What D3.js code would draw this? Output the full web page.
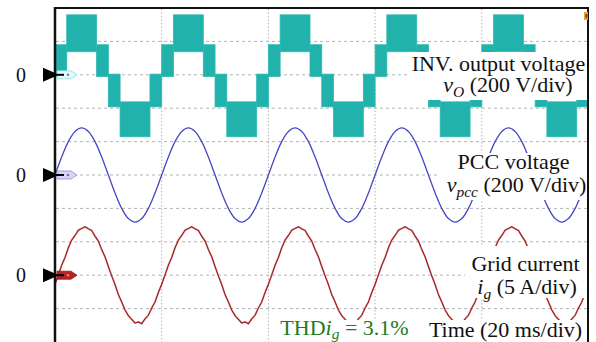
<!DOCTYPE html>
<html>
<head>
<meta charset="utf-8">
<script src="https://cdn.jsdelivr.net/npm/d3@7"></script>
<style>
  body { margin: 0; background: #fff; }
  svg { display: block; font-family: "Liberation Serif", "Times New Roman", serif; }
</style>
</head>
<body>
<svg id="scope" width="596" height="342"></svg>
<script>
// time base 20 ms/div, five divisions on screen
var timeGrid = [20, 40, 60, 80];
var divGrid = [1, 2, 3, 4, 5, 6, 7, 8, 9];
var cycles = [0, 20, 40, 60, 80, 100];

// vO : multilevel PWM bands within one 20 ms cycle (ms, V)
var voStart = [0, 2.2, 7.8, 10, 12.2, 17.8];
var voEnd   = [2.2, 7.8, 10, 12.2, 17.8, 20];
var voHigh  = [180, 359, 180, 4, -162, 4];
var voLow   = [-10, 138, -10, -192, -371, -192];

// vpcc sampled every 1.25 ms over one cycle (V)
var vpccT = [0, 1.25, 2.5, 3.75, 5, 6.25, 7.5, 8.75, 10, 11.25, 12.5, 13.75, 15, 16.25, 17.5, 18.75];
var vpcc  = [0, 108, 200, 261, 282, 261, 200, 108, 0, -108, -200, -261, -282, -261, -200, -108];

// ig sampled every 0.625 ms over one cycle (A)
var igT = [0, 0.625, 1.25, 1.875, 2.5, 3.125, 3.75, 4.375, 5, 5.625, 6.25, 6.875, 7.5, 8.125, 8.75, 9.375,
           10, 10.625, 11.25, 11.875, 12.5, 13.125, 13.75, 14.375, 15, 15.625, 16.25, 16.875, 17.5, 18.125, 18.75, 19.375];
var ig  = [-1.35, 0.05, 1.5, 2.65, 4.1, 5.25, 5.95, 6.75, 7.0, 7.25, 6.95, 6.7, 5.85, 5.1, 3.85, 2.75,
           1.3, -0.1, -1.4, -2.9, -4.0, -5.2, -6.05, -6.6, -7.15, -7.0, -7.25, -6.55, -6.0, -4.9, -4.0, -2.6];

// channel zero positions (division index from top) and scale per division
var chZero = [2, 5, 8];
var chPerDiv = [200, 200, 5];

var svg = d3.select("#scope");
var x = d3.scaleLinear().domain([0, 100]).range([55, 588.5]);
var yDiv = d3.scaleLinear().domain([0, 10]).range([8, 342]);
function chScale(i) {
    return d3.scaleLinear().domain([0, chPerDiv[i]]).range([yDiv(chZero[i]), yDiv(chZero[i] - 1)]);
}
var y1 = chScale(0), y2 = chScale(1), y3 = chScale(2);

svg.append("clipPath").attr("id", "plotClip")
    .append("rect").attr("x", 55).attr("y", 8).attr("width", 533.5).attr("height", 334);

//grid
var grid = svg.append("g");
grid.selectAll(".hgrid").data(divGrid).enter().append("line")
    .attr("x1", 56).attr("x2", 588)
    .attr("y1", function(d) { return yDiv(d); }).attr("y2", function(d) { return yDiv(d); })
    .attr("stroke", "#b4b4b4").attr("stroke-width", 1).attr("stroke-dasharray", "3,3");
grid.selectAll(".vgrid").data(timeGrid).enter().append("line")
    .attr("x1", function(d) { return x(d); }).attr("x2", function(d) { return x(d); })
    .attr("y1", 9).attr("y2", 342)
    .attr("stroke", "#b4b4b4").attr("stroke-width", 1).attr("stroke-dasharray", "1.5,2");

var traces = svg.append("g").attr("clip-path", "url(#plotClip)");

//vO bands
var voBands = [];
cycles.forEach(function(c) {
    voStart.forEach(function(s, i) {
        voBands.push({ t0: c + s, t1: c + voEnd[i], lo: voLow[i], hi: voHigh[i] });
    });
});
traces.selectAll(".vo").data(voBands).enter().append("rect")
    .attr("x", function(d) { return x(d.t0); })
    .attr("width", function(d) { return x(d.t1) - x(d.t0); })
    .attr("y", function(d) { return y1(d.hi); })
    .attr("height", function(d) { return y1(d.lo) - y1(d.hi); })
    .attr("fill", "#22b2ac").attr("stroke", "#2ab8b2").attr("stroke-width", 0.8);

//vpcc
var vpccPts = [];
cycles.forEach(function(c) {
    vpccT.forEach(function(t, i) { vpccPts.push([c + t, vpcc[i]]); });
});
traces.append("path")
    .attr("d", d3.line().x(function(d) { return x(d[0]); }).y(function(d) { return y2(d[1]); })
        .curve(d3.curveCatmullRom)(vpccPts))
    .attr("fill", "none").attr("stroke", "#4646c8").attr("stroke-width", 1.3);

//ig
var igPts = [];
cycles.forEach(function(c) {
    igT.forEach(function(t, i) { igPts.push([c + t, ig[i]]); });
});
traces.append("path")
    .attr("d", d3.line().x(function(d) { return x(d[0]); }).y(function(d) { return y3(d[1]); })(igPts))
    .attr("fill", "none").attr("stroke", "#d08a8a").attr("stroke-width", 2).attr("opacity", 0.5);
traces.append("path")
    .attr("d", d3.line().x(function(d) { return x(d[0]); }).y(function(d) { return y3(d[1]); })(igPts))
    .attr("fill", "none").attr("stroke", "#a01e1e").attr("stroke-width", 1.2);

//white boxes behind the labels
var masks = [[408, 52, 180, 48], [440, 153, 148, 47], [465, 246, 123, 52], [278, 320, 310, 22]];
svg.selectAll(".mask").data(masks).enter().append("rect")
    .attr("x", function(d) { return d[0]; }).attr("y", function(d) { return d[1]; })
    .attr("width", function(d) { return d[2]; }).attr("height", function(d) { return d[3]; })
    .attr("fill", "#fff");

//frame
svg.append("line").attr("x1", 54).attr("x2", 589).attr("y1", 8).attr("y2", 8)
    .attr("stroke", "#111").attr("stroke-width", 2);
svg.append("line").attr("x1", 55).attr("x2", 55).attr("y1", 7).attr("y2", 342)
    .attr("stroke", "#111").attr("stroke-width", 2.5);
svg.append("line").attr("x1", 588).attr("x2", 588).attr("y1", 7).attr("y2", 342)
    .attr("stroke", "#111").attr("stroke-width", 2);
svg.append("rect").attr("x", 584).attr("y", 12).attr("width", 4).attr("height", 8).attr("fill", "#f0a030");
svg.append("rect").attr("x", 585.5).attr("y", 14).attr("width", 2).attr("height", 4).attr("fill", "#7a4a10");

//channel markers
var flagFill = ["#e4f9f9", "#d8d8f6", "#b52424"];
var flagStroke = ["#8adcdc", "#8c8ce0", "#8e1a1a"];
var dotFill = ["#888", "#6a6ad8", "#e08080"];
chZero.forEach(function(z, i) {
    var yz = yDiv(z);
    svg.append("text").attr("x", 21).attr("y", yz + 7).attr("text-anchor", "middle")
        .attr("font-size", 20).attr("fill", "#111").text("0");
    svg.append("path")
        .attr("d", "M" + (57 - 14) + "," + (yz - 7) + "L59," + yz + "L" + (57 - 14) + "," + (yz + 7) + "Z")
        .attr("fill", "#000");
    svg.append("path")
        .attr("d", "M57," + (yz - 4) + "L71," + (yz - 4) + "L77," + yz + "L71," + (yz + 4) + "L57," + (yz + 4) + "Z")
        .attr("fill", flagFill[i]).attr("stroke", flagStroke[i]).attr("stroke-width", 0.8);
    svg.append("line").attr("x1", 55).attr("x2", 64).attr("y1", yz).attr("y2", yz)
        .attr("stroke", "#000").attr("stroke-width", 2);
    svg.append("circle").attr("cx", 68).attr("cy", yz).attr("r", 1.3).attr("fill", dotFill[i]);
});

//labels
var fs = 22;
function label(cx, by, parts, color, shift) {
    var sh = shift || 5;
    var t = svg.append("text").attr("x", cx).attr("y", by).attr("text-anchor", "middle")
        .attr("font-size", fs).attr("fill", color || "#111");
    parts.forEach(function(p) {
        var s = t.append("tspan").text(p.s);
        if (p.i) s.attr("font-style", "italic");
        if (p.sub) s.attr("font-size", 15.5).attr("dy", sh);
        if (p.up) s.attr("dy", -sh);
    });
}
label(498.5, 71, [{ s: "INV. output voltage" }]);
label(508, 92, [{ s: "v", i: true }, { s: "O", i: true, sub: true }, { s: " (200 V/div)", up: true }]);
label(513.5, 169, [{ s: "PCC voltage" }]);
label(516.5, 192, [{ s: "v", i: true }, { s: "pcc", i: true, sub: true }, { s: " (200 V/div)", up: true }]);
label(525.5, 271, [{ s: "Grid current" }]);
label(527, 294, [{ s: "i", i: true }, { s: "g", i: true, sub: true }, { s: " (5 A/div)", up: true }]);
label(505.5, 337, [{ s: "Time (20 ms/div)" }]);
label(344.5, 335, [{ s: "THD" }, { s: "i", i: true }, { s: "g", i: true, sub: true }, { s: " = 3.1%", up: true }], "#217a21", 3.5);
</script>
</body>
</html>
